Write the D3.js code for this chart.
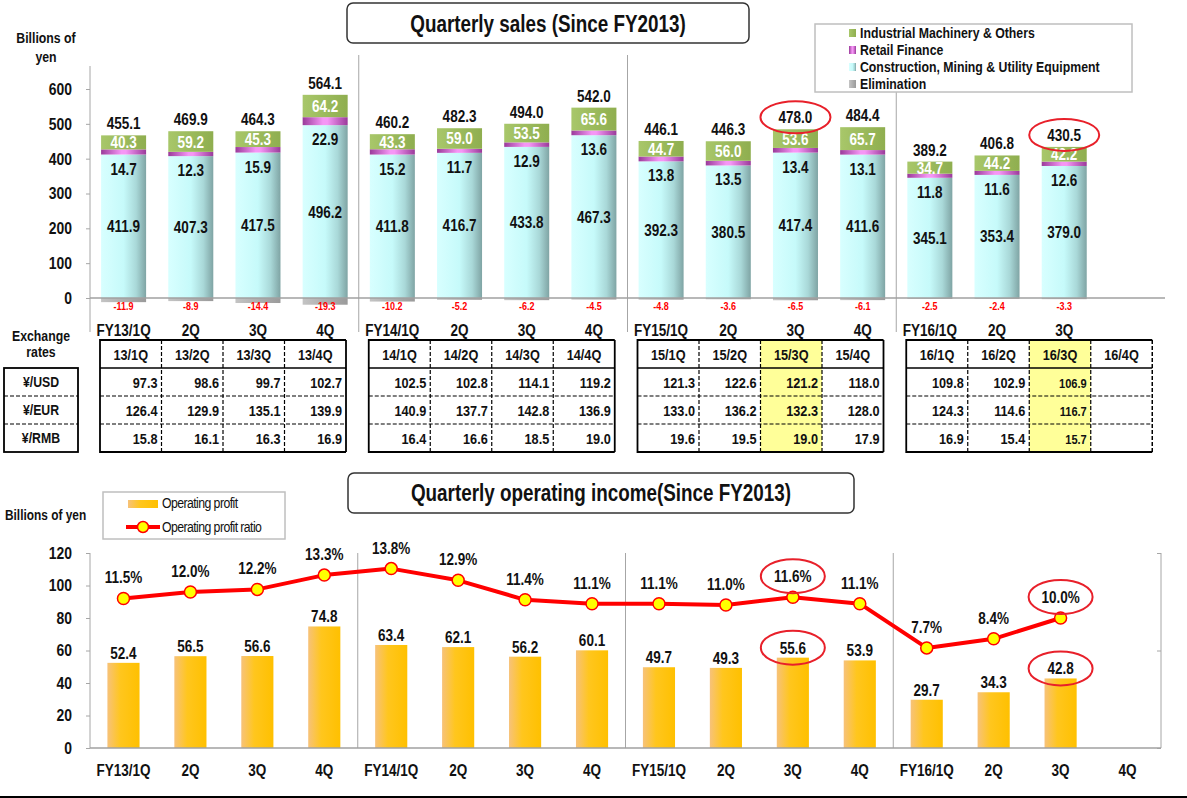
<!DOCTYPE html>
<html>
<head>
<meta charset="utf-8">
<title>Quarterly sales and operating income</title>
<script src="https://cdnjs.cloudflare.com/ajax/libs/d3/7.8.5/d3.min.js"></script>
<style>
body, html { margin: 0; padding: 0; background: #fff; overflow: hidden; }
svg text {
  font-family: 'Liberation Sans Narrow', 'Arial Narrow', 'Liberation Sans', Arial, sans-serif;
  font-weight: bold;
  fill: #111;
}
.axis path { display: none; }
.axis line { stroke: #a6a6a6; }
</style>
</head>
<body>
<svg id="chart" width="1187" height="798"></svg>
<script>
// ---- data ----
var quarters = ["FY13/1Q","2Q","3Q","4Q","FY14/1Q","2Q","3Q","4Q","FY15/1Q","2Q","3Q","4Q","FY16/1Q","2Q","3Q","4Q"];

var construction = [411.9,407.3,417.5,496.2,411.8,416.7,433.8,467.3,392.3,380.5,417.4,411.6,345.1,353.4,379.0];
var retail       = [14.7,12.3,15.9,22.9,15.2,11.7,12.9,13.6,13.8,13.5,13.4,13.1,11.8,11.6,12.6];
var industrial   = [40.3,59.2,45.3,64.2,43.3,59.0,53.5,65.6,44.7,56.0,53.6,65.7,34.7,44.2,42.2];
var elimination  = [-11.9,-8.9,-14.4,-19.3,-10.2,-5.2,-6.2,-4.5,-4.8,-3.6,-6.5,-6.1,-2.5,-2.4,-3.3];
var salesTotal   = [455.1,469.9,464.3,564.1,460.2,482.3,494.0,542.0,446.1,446.3,478.0,484.4,389.2,406.8,430.5];
var salesTicks   = [0,100,200,300,400,500,600];

var rateQuarters = ["13/1Q","13/2Q","13/3Q","13/4Q","14/1Q","14/2Q","14/3Q","14/4Q","15/1Q","15/2Q","15/3Q","15/4Q","16/1Q","16/2Q","16/3Q","16/4Q"];
var rateNames = ["¥/USD","¥/EUR","¥/RMB"];
var usd = [97.3,98.6,99.7,102.7,102.5,102.8,114.1,119.2,121.3,122.6,121.2,118.0,109.8,102.9,106.9,null];
var eur = [126.4,129.9,135.1,139.9,140.9,137.7,142.8,136.9,133.0,136.2,132.3,128.0,124.3,114.6,116.7,null];
var rmb = [15.8,16.1,16.3,16.9,16.4,16.6,18.5,19.0,19.6,19.5,19.0,17.9,16.9,15.4,15.7,null];

var opProfit = [52.4,56.5,56.6,74.8,63.4,62.1,56.2,60.1,49.7,49.3,55.6,53.9,29.7,34.3,42.8];
var opRatio  = [11.5,12.0,12.2,13.3,13.8,12.9,11.4,11.1,11.1,11.0,11.6,11.1,7.7,8.4,10.0];
var profitTicks = [0,20,40,60,80,100,120];

var highlighted = [10, 14];   // 15/3Q and 16/3Q
var legendItems = ["Industrial Machinery & Others","Retail Finance","Construction, Mining & Utility Equipment","Elimination"];

var svg = d3.select("#chart");
svg.append("rect").attr("width",1187).attr("height",798).attr("fill","#fff");

// ---- gradients ----
var defs = svg.append("defs");
function grad(id, stops){
  var g = defs.append("linearGradient").attr("id", id).attr("x1",0).attr("x2",1).attr("y1",0).attr("y2",0);
  stops.forEach(function(s){ g.append("stop").attr("offset", s[0]).attr("stop-color", s[1]); });
}
grad("gCyan",   [[0,"#d8ffff"],[0.5,"#c6fafa"],[0.78,"#a9d8d8"],[1,"#7fa4a4"]]);
grad("gPurple", [[0,"#9a3a9a"],[0.45,"#f596f5"],[0.55,"#f596f5"],[1,"#9a3a9a"]]);
grad("gGreen",  [[0,"#a8c76a"],[1,"#8fae4f"]]);
grad("gGray",   [[0,"#c4c4c4"],[1,"#9a9a9a"]]);
grad("gGold",   [[0,"#f7c27a"],[0.4,"#ffc61e"],[1,"#ffc000"]]);

// ================= TOP: quarterly sales =================
var xTop = d3.scaleBand().domain(d3.range(16)).range([90,1165]).paddingInner(0.33).paddingOuter(0.165);
var yTop = d3.scaleLinear().domain([0,600]).range([298,89]);
var bw = xTop.bandwidth();
var stepTop = xTop.step();

// title box
svg.append("rect").attr("x",347).attr("y",3).attr("width",402).attr("height",40).attr("rx",6)
  .attr("fill","#fff").attr("stroke","#333").attr("stroke-width",1.5);
svg.append("text").attr("x",548).attr("y",32).attr("text-anchor","middle").style("font-size","23px")
  .text("Quarterly sales (Since FY2013)");

svg.append("text").attr("x",46).attr("y",43).attr("text-anchor","middle").style("font-size","15px").text("Billions of");
svg.append("text").attr("x",46).attr("y",62).attr("text-anchor","middle").style("font-size","15px").text("yen");

// y axis
svg.append("g").attr("class","axis").attr("transform","translate(90,0)")
  .call(d3.axisLeft(yTop).tickValues(salesTicks).tickSize(4).tickPadding(14))
  .selectAll("text").style("font-size","17px");
svg.append("line").attr("x1",90).attr("x2",90).attr("y1",66).attr("y2",332).attr("stroke","#a6a6a6");
// separators
[1,2,3].forEach(function(g){
  var sx = 90 + g*4*stepTop;
  svg.append("line").attr("x1",sx).attr("x2",sx).attr("y1",55).attr("y2",332).attr("stroke","#a6a6a6");
});

var salesData = construction.map(function(c,i){
  return {i:i, c:c, r:retail[i], ind:industrial[i], e:elimination[i], t:salesTotal[i]};
});

var bars = svg.append("g").selectAll("g").data(salesData).join("g");
bars.append("rect").attr("x",function(d){return xTop(d.i);}).attr("width",bw)
  .attr("y",yTop(0)).attr("height",function(d){return yTop(d.e)-yTop(0);}).attr("fill","url(#gGray)");
bars.append("rect").attr("x",function(d){return xTop(d.i);}).attr("width",bw)
  .attr("y",function(d){return yTop(d.c);}).attr("height",function(d){return yTop(0)-yTop(d.c);}).attr("fill","url(#gCyan)");
bars.append("rect").attr("x",function(d){return xTop(d.i);}).attr("width",bw)
  .attr("y",function(d){return yTop(d.c+d.r);}).attr("height",function(d){return yTop(d.c)-yTop(d.c+d.r);}).attr("fill","url(#gPurple)");
bars.append("rect").attr("x",function(d){return xTop(d.i);}).attr("width",bw)
  .attr("y",function(d){return yTop(d.c+d.r+d.ind);}).attr("height",function(d){return yTop(d.c+d.r)-yTop(d.c+d.r+d.ind);}).attr("fill","url(#gGreen)");

function cx(d){ return xTop(d.i)+bw/2; }
bars.append("text").attr("x",cx).attr("y",function(d){return (yTop(0)+yTop(d.c))/2+6;})
  .attr("text-anchor","middle").style("font-size","16.5px").text(function(d){return d.c.toFixed(1);});
bars.append("text").attr("x",cx).attr("y",function(d){return yTop(d.c)+20;})
  .attr("text-anchor","middle").style("font-size","16.5px").text(function(d){return d.r.toFixed(1);});
bars.append("text").attr("x",cx).attr("y",function(d){return (yTop(d.c+d.r)+yTop(d.c+d.r+d.ind))/2+6;})
  .attr("text-anchor","middle").style("font-size","16.5px").style("fill","#fff").text(function(d){return d.ind.toFixed(1);});
bars.append("text").attr("x",cx).attr("y",function(d){return yTop(d.c+d.r+d.ind)-6;})
  .attr("text-anchor","middle").style("font-size","16.5px").text(function(d){return d.t.toFixed(1);});
bars.append("text").attr("x",cx).attr("y",310)
  .attr("text-anchor","middle").style("font-size","11px").style("fill","#ff0000").text(function(d){return d.e.toFixed(1);});

// zero line
svg.append("line").attr("x1",90).attr("x2",1165).attr("y1",yTop(0)).attr("y2",yTop(0)).attr("stroke","#a0a0a0").attr("stroke-width",1.5);

// highlight ellipses around totals
highlighted.forEach(function(i){
  var d = salesData[i];
  svg.append("ellipse").attr("cx",cx(d)).attr("cy",yTop(d.c+d.r+d.ind)-12).attr("rx",35).attr("ry",16)
    .attr("fill","none").attr("stroke","#e8202a").attr("stroke-width",2);
});

// category labels under sales chart
svg.append("g").selectAll("text").data(quarters.slice(0,15)).join("text")
  .attr("x",function(d,i){return xTop(i)+bw/2;}).attr("y",336).attr("text-anchor","middle")
  .style("font-size","16.5px").text(function(d){return d;});

// legend
svg.append("rect").attr("x",815).attr("y",24).attr("width",317).attr("height",68)
  .attr("fill","#fff").attr("stroke","#bfbfbf").attr("stroke-width",1.5);
var legendFill = ["url(#gGreen)","url(#gPurple)","url(#gCyan)","url(#gGray)"];
legendItems.forEach(function(t,k){
  var ly = 33 + k*17;
  svg.append("rect").attr("x",849).attr("y",ly-4).attr("width",7).attr("height",8).attr("fill",legendFill[k]);
  svg.append("text").attr("x",860).attr("y",ly+5).style("font-size","15px").text(t);
});

// ================= exchange rate tables =================
svg.append("text").attr("x",41).attr("y",341).attr("text-anchor","middle").style("font-size","15px").text("Exchange");
svg.append("text").attr("x",41).attr("y",357).attr("text-anchor","middle").style("font-size","15px").text("rates");

var rowTop = 368, rowH = 28, headTop = 340, colW = 61.5;
svg.append("rect").attr("x",4).attr("y",rowTop).attr("width",74).attr("height",rowH*3)
  .attr("fill","none").attr("stroke","#000").attr("stroke-width",1.8);
rateNames.forEach(function(n,k){
  if(k>0) svg.append("line").attr("x1",4).attr("x2",78).attr("y1",rowTop+k*rowH).attr("y2",rowTop+k*rowH)
    .attr("stroke","#000").attr("stroke-dasharray","4,2").attr("stroke-width",1.2);
  svg.append("text").attr("x",41).attr("y",rowTop+k*rowH+19).attr("text-anchor","middle").style("font-size","15px").text(n);
});

var rates = [usd, eur, rmb];
[0,1,2,3].forEach(function(g){
  var left = 90 + g*4*stepTop + 10;
  var tw = colW*4;
  var tg = svg.append("g");
  // highlighted columns
  highlighted.forEach(function(i){
    if(Math.floor(i/4)===g){
      tg.append("rect").attr("x",left+(i%4)*colW).attr("y",headTop).attr("width",colW).attr("height",rowTop+3*rowH-headTop)
        .attr("fill","#ffff99");
    }
  });
  for(var j=0;j<4;j++){
    var i = g*4+j;
    var cl = left + j*colW;
    tg.append("text").attr("x",cl+colW/2).attr("y",headTop+20).attr("text-anchor","middle")
      .style("font-size","15.5px").text(rateQuarters[i]);
    rates.forEach(function(arr,k){
      if(arr[i]===null) return;
      tg.append("text").attr("x",cl+colW-4).attr("y",rowTop+k*rowH+20).attr("text-anchor","end")
        .style("font-size", i===14 ? "13.5px" : "15.5px").text(arr[i].toFixed(1));
    });
    if(j>0) tg.append("line").attr("x1",cl).attr("x2",cl).attr("y1",headTop).attr("y2",rowTop+3*rowH)
      .attr("stroke","#000").attr("stroke-dasharray","4,2").attr("stroke-width",1.2);
  }
  [1,2].forEach(function(k){
    tg.append("line").attr("x1",left).attr("x2",left+tw).attr("y1",rowTop+k*rowH).attr("y2",rowTop+k*rowH)
      .attr("stroke","#000").attr("stroke-dasharray","4,2").attr("stroke-width",1.2);
  });
  tg.append("line").attr("x1",left).attr("x2",left+tw).attr("y1",rowTop).attr("y2",rowTop).attr("stroke","#000").attr("stroke-width",1.5);
  // outer border (last table has a dashed right edge)
  tg.append("path").attr("d","M"+(left+tw)+","+headTop+"H"+left+"V"+(rowTop+3*rowH)+"H"+(left+tw))
    .attr("fill","none").attr("stroke","#000").attr("stroke-width",1.8);
  tg.append("line").attr("x1",left+tw).attr("x2",left+tw).attr("y1",headTop).attr("y2",rowTop+3*rowH)
    .attr("stroke","#000").attr("stroke-width",g===3?1.5:1.8).attr("stroke-dasharray",g===3?"4,2":null);
});

// ================= BOTTOM: operating income =================
var xBot = d3.scaleBand().domain(d3.range(16)).range([90,1161]).paddingInner(0.52).paddingOuter(0.26);
var yBot = d3.scaleLinear().domain([0,120]).range([748,553]);
var yRatio = d3.scaleLinear().domain([0,15]).range([748,553]);
var bwb = xBot.bandwidth();
var stepBot = xBot.step();

svg.append("rect").attr("x",348).attr("y",473).attr("width",506).attr("height",40).attr("rx",6)
  .attr("fill","#fff").attr("stroke","#333").attr("stroke-width",1.5);
svg.append("text").attr("x",601).attr("y",501).attr("text-anchor","middle").style("font-size","23px")
  .text("Quarterly operating income(Since FY2013)");

svg.append("text").attr("x",5).attr("y",520).style("font-size","14.5px").text("Billions of yen");

// legend
svg.append("rect").attr("x",103).attr("y",492).attr("width",182).attr("height",47)
  .attr("fill","#fff").attr("stroke","#bfbfbf").attr("stroke-width",1.5);
svg.append("rect").attr("x",128).attr("y",500).attr("width",30).attr("height",8).attr("fill","url(#gGold)");
svg.append("text").attr("x",162).attr("y",508).style("font-size","15px").style("font-weight","normal")
  .style("letter-spacing","-0.7px").text("Operating profit");
svg.append("line").attr("x1",126).attr("x2",160).attr("y1",527).attr("y2",527).attr("stroke","#ff0000").attr("stroke-width",4);
svg.append("circle").attr("cx",143).attr("cy",527).attr("r",5.5).attr("fill","#ffff00").attr("stroke","#ff0000").attr("stroke-width",1.5);
svg.append("text").attr("x",162).attr("y",532).style("font-size","15px").style("font-weight","normal")
  .style("letter-spacing","-0.7px").text("Operating profit ratio");

// axes
svg.append("g").attr("class","axis").attr("transform","translate(90,0)")
  .call(d3.axisLeft(yBot).tickValues(profitTicks).tickSize(4).tickPadding(14))
  .selectAll("text").style("font-size","17px");
svg.append("line").attr("x1",90).attr("x2",90).attr("y1",553).attr("y2",748).attr("stroke","#a6a6a6");
svg.append("g").attr("class","axis").attr("transform","translate(1161,0)")
  .call(d3.axisRight(yRatio).tickValues([0,7.5,15]).tickSize(-4).tickFormat(""));
svg.append("line").attr("x1",1161).attr("x2",1161).attr("y1",553).attr("y2",748).attr("stroke","#a6a6a6");
[1,2,3].forEach(function(g){
  var sx = 90 + g*4*stepBot;
  svg.append("line").attr("x1",sx).attr("x2",sx).attr("y1",553).attr("y2",748).attr("stroke","#a6a6a6");
});

svg.append("g").selectAll("rect").data(opProfit).join("rect")
  .attr("x",function(d,i){return xBot(i);}).attr("width",bwb)
  .attr("y",function(d){return yBot(d);}).attr("height",function(d){return yBot(0)-yBot(d);})
  .attr("fill","url(#gGold)");
svg.append("line").attr("x1",90).attr("x2",1161).attr("y1",748).attr("y2",748).attr("stroke","#a0a0a0").attr("stroke-width",1.5);

svg.append("g").selectAll("text").data(opProfit).join("text")
  .attr("x",function(d,i){return xBot(i)+bwb/2;}).attr("y",function(d){return yBot(d)-4;})
  .attr("text-anchor","middle").style("font-size","16.5px").text(function(d){return d.toFixed(1);});

var line = d3.line().x(function(d,i){return xBot(i)+bwb/2;}).y(function(d){return yRatio(d);});
svg.append("path").datum(opRatio).attr("d",line).attr("fill","none").attr("stroke","#ff0000")
  .attr("stroke-width",4).attr("stroke-linejoin","round");
svg.append("g").selectAll("circle").data(opRatio).join("circle")
  .attr("cx",function(d,i){return xBot(i)+bwb/2;}).attr("cy",function(d){return yRatio(d);}).attr("r",6)
  .attr("fill","#ffff00").attr("stroke","#ff0000").attr("stroke-width",1.5);
svg.append("g").selectAll("text").data(opRatio).join("text")
  .attr("x",function(d,i){return xBot(i)+bwb/2;}).attr("y",function(d){return yRatio(d)-15;})
  .attr("text-anchor","middle").style("font-size","16.5px").text(function(d){return d.toFixed(1)+"%";});

highlighted.forEach(function(i){
  var x0 = xBot(i)+bwb/2;
  svg.append("ellipse").attr("cx",x0).attr("cy",yRatio(opRatio[i])-21).attr("rx",32).attr("ry",17)
    .attr("fill","none").attr("stroke","#e8202a").attr("stroke-width",2);
  svg.append("ellipse").attr("cx",x0).attr("cy",yBot(opProfit[i])-10).attr("rx",32).attr("ry",17)
    .attr("fill","none").attr("stroke","#e8202a").attr("stroke-width",2);
});

svg.append("g").selectAll("text").data(quarters).join("text")
  .attr("x",function(d,i){return xBot(i)+bwb/2;}).attr("y",776).attr("text-anchor","middle")
  .style("font-size","16.5px").text(function(d){return d;});

svg.append("line").attr("x1",0).attr("x2",1187).attr("y1",797).attr("y2",797).attr("stroke","#000").attr("stroke-width",2);

// the source uses a condensed face; squeeze every label horizontally around its anchor
svg.selectAll("text").each(function(){
  var x = +this.getAttribute("x") || 0;
  d3.select(this).attr("transform","translate("+x+",0) scale(0.82,1) translate("+(-x)+",0)");
});
</script>
</body>
</html>
